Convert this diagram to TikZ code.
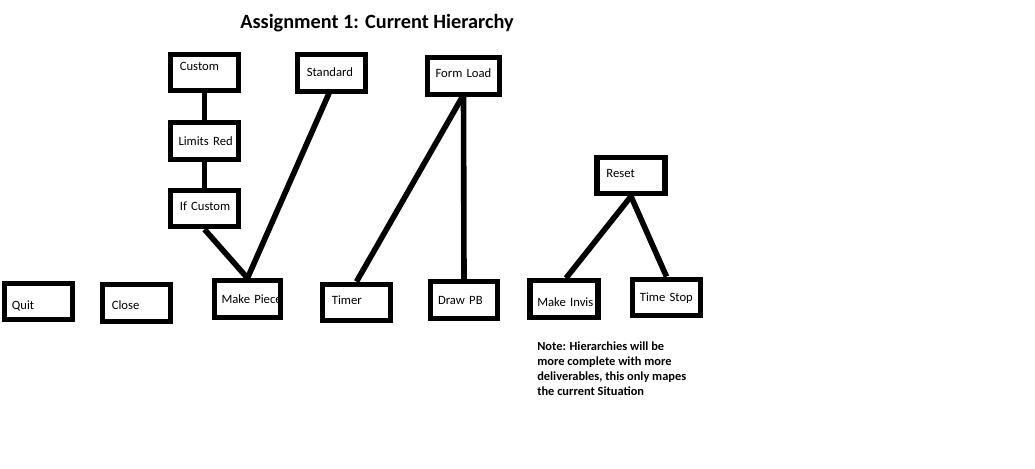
\documentclass[tikz,border=0pt]{standalone}
\usepackage{fontspec}
\setmainfont{Carlito}
\usepackage{xcolor}
\definecolor{colorn}{RGB}{0,0,0}
\usepackage{tikz}
\usetikzlibrary{arrows,shapes,calc}
\tikzstyle{blockB} = [rectangle, draw=colorn, line width=3.8pt, minimum width=51pt, minimum height=27.5pt, text width=37pt, text height=8pt, text depth=1.3pt, align=left, inner sep=0pt, font=\fontsize{9.5}{11}\selectfont]
\tikzstyle{linkB} = [draw=colorn, line width=4.2pt]

\begin{document}
\begin{tikzpicture}[x=0.75pt,y=-0.75pt]
  \useasboundingbox[fill=white] (0,0) rectangle (1035,468);

  \node[font=\bfseries\fontsize{15.2}{18}\selectfont] (title) at (377,23) {Assignment 1: Current Hierarchy};

  %top row
  \node[blockB] (custom) at (204.5,72.5) {\raisebox{4.6pt}{Custom}};
  \node[blockB, text width=39pt] (limits) at (204.5,141) {\mbox{Limits Red}};
  \node[blockB] (ifcustom) at (204.5,208.5) {\raisebox{1.8pt}{\mbox{If Custom}}};
  \node[blockB] (standard) at (331.5,73) {\raisebox{1pt}{Standard}};
  \node[blockB, minimum width=54pt, text width=42pt] (formload) at (463.5,76) {\raisebox{2.5pt}{\mbox{Form Load}}};
  \node[blockB] (reset) at (631,175.5) {\raisebox{2.2pt}{Reset}};

  %bottom row
  \node[blockB, text width=40pt] (quit) at (38.5,301.5) {\raisebox{-3pt}{Quit}};
  \node[blockB] (close) at (136.5,303) {\raisebox{-1.8pt}{Close}};
  \node[blockB, minimum width=49.5pt, text width=39pt] (makepiece) at (247.5,299) {\mbox{Make Piec}\rlap{e}};
  \node[blockB] (timer) at (356.5,302.5) {\raisebox{1.5pt}{Timer}};
  \node[blockB, minimum width=50pt, text width=39pt] (drawpb) at (464,300) {\mbox{Draw PB}};
  \node[blockB, text width=40pt] (makeinvis) at (564,299) {\raisebox{-2.2pt}{\mbox{Make Invis}}};
  \node[blockB, text width=40pt] (timestop) at (666.5,297.5) {\mbox{Time Stop}};

  \draw[linkB] (custom.south) -- (limits.north);
  \draw[linkB] (limits.south) -- (ifcustom.north);
  \draw[linkB] (ifcustom.south) -- (makepiece.north);
  \draw[linkB] ($(standard.south)+(-1,-4)$) -- (makepiece.north);
  \draw[linkB] ($(formload.south)+(0,-2)$) -- (timer.north);
  \draw[linkB] ($(formload.south)+(0,-2)$) -- (drawpb.north);
  \draw[linkB] (reset.south) -- ($(makeinvis.north)+(2,0)$);
  \draw[linkB] (reset.south) -- (timestop.north);

  \node[anchor=north west, align=left, inner sep=0pt, font=\bfseries\fontsize{9.3}{11.25}\selectfont] (note) at (537,342)
    {Note: Hierarchies will be\\more complete with more\\deliverables, this only mapes\\the current Situation};
\end{tikzpicture}
\end{document}
